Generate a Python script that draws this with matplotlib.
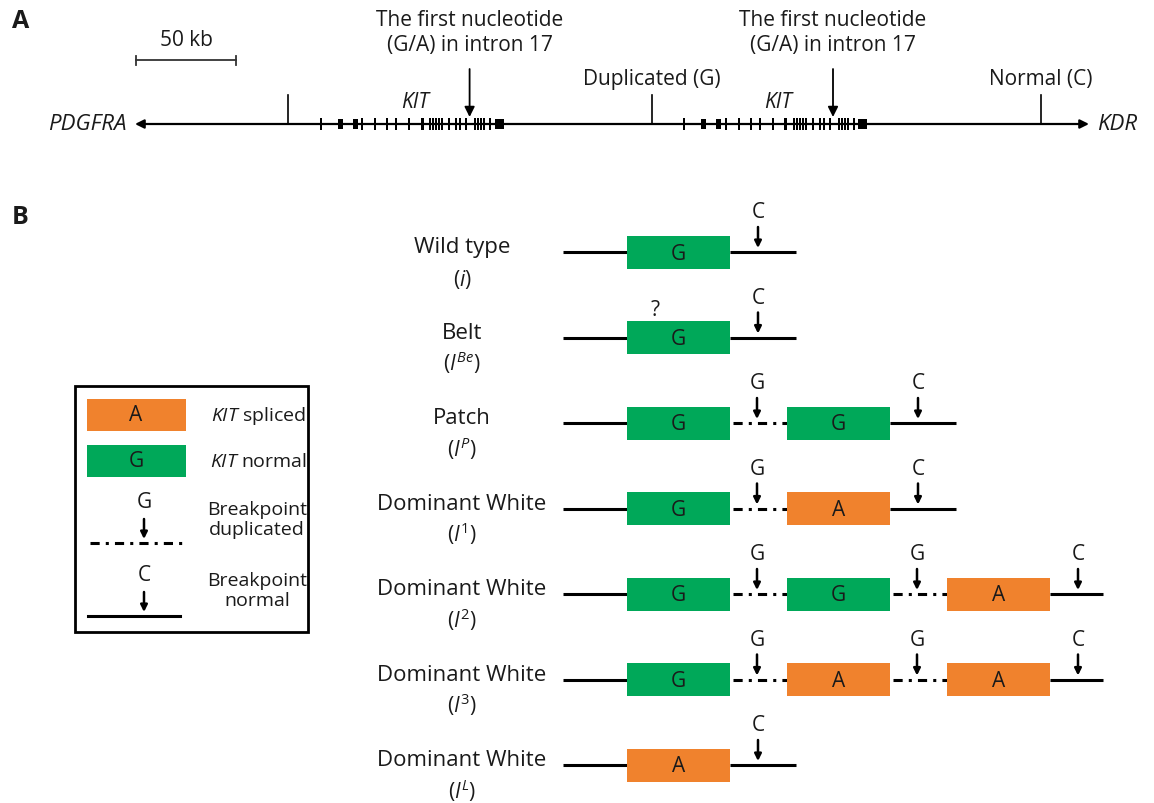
import matplotlib.pyplot as plt
from matplotlib.patches import Rectangle

plt.rcParams['font.family'] = ['Open Sans', 'DejaVu Sans']
plt.rcParams['mathtext.fontset'] = 'custom'
plt.rcParams['mathtext.rm'] = 'Open Sans'
plt.rcParams['mathtext.it'] = 'Open Sans:italic'
plt.rcParams['text.color'] = '#1a1a1a'

GREEN = '#00A859'
ORANGE = '#F0822D'

# ---- panel A data (kb) ----
scale_kb = 50
track_kb = [-0.5, 476.5]
marker_kb = [76, 258, 452.5]
marker_labels = ['', 'Duplicated (G)', 'Normal (C)']
kit_starts_kb = [92.3, 274.0]
intron17_kb = 74.5
exon_kb = [0, 9.8, 17.3, 20.8, 27.3, 33.3, 37.8, 44.3, 50.8, 54.8, 56.3, 57.8,
           59.3, 60.8, 64.3, 67.8, 69.8, 72.8, 77.3, 78.8, 80.3, 81.8, 84.8, 89.3]
exon_len_kb = [1, 2.5, 2.5, 1, 1, 1, 1, 1, 1.5, 1, 1, 1,
               1, 1, 1, 1, 1, 1, 1, 1, 1, 1, 1, 4.5]

# ---- panel B data ----
row_names = ['Wild type', 'Belt', 'Patch', 'Dominant White', 'Dominant White',
             'Dominant White', 'Dominant White']
row_alleles = [r'($i$)', r'($I^{Be}$)', r'($I^{P}$)', r'($I^{1}$)', r'($I^{2}$)',
               r'($I^{3}$)', r'($I^{L}$)']
row_boxes = [['G'], ['G'], ['G', 'G'], ['G', 'A'], ['G', 'G', 'A'],
             ['G', 'A', 'A'], ['A']]
box_colors = {'G': GREEN, 'A': ORANGE}
legend_items = [('A', r'$\mathit{KIT}$ spliced'), ('G', r'$\mathit{KIT}$ normal'),
                ('G', 'Breakpoint\nduplicated'), ('C', 'Breakpoint\nnormal')]

fig = plt.figure(figsize=(11.54, 8.04), dpi=100)

# panel A axes in kb
ax_a = fig.add_axes([0, 0, 1, 1])
ax_a.set_xlim(-68, 509)
ax_a.set_ylim(804, 0)
ax_a.axis('off')

# panel B axes in layout units (pixels)
ax = fig.add_axes([0, 0, 1, 1])
ax.set_xlim(0, 1154)
ax.set_ylim(804, 0)
ax.axis('off')
ax.patch.set_alpha(0)

ax.text(12, 22, 'A', fontsize=18, fontweight='bold', va='center', ha='left')
ax.text(12, 218, 'B', fontsize=18, fontweight='bold', va='center', ha='left')

# ---- panel A ----
ty = 125
fs = 15
ax_a.annotate('', xy=(track_kb[0], ty), xytext=(track_kb[1], ty),
              arrowprops=dict(arrowstyle='<|-|>', lw=1.6, color='k',
                              mutation_scale=13, shrinkA=0, shrinkB=0))
ax_a.text(track_kb[0] - 4, ty, 'PDGFRA', style='italic', fontsize=16,
          ha='right', va='center')
ax_a.text(track_kb[1] + 4, ty, 'KDR', style='italic', fontsize=16,
          ha='left', va='center')

# scale bar
ax_a.plot([0, scale_kb], [61, 61], color='#333', lw=1.3)
for s in (0, scale_kb):
    ax_a.plot([s, s], [57, 66], color='#333', lw=1.3)
ax_a.text(scale_kb / 2, 40, '%d kb' % scale_kb, fontsize=fs, ha='center', va='center')

for m, lab in zip(marker_kb, marker_labels):
    ax_a.plot([m, m], [96, ty], color='k', lw=1.2)
    if lab:
        ax_a.text(m, 79, lab, fontsize=fs, ha='center', va='center')

for k0 in kit_starts_kb:
    for e, w in zip(exon_kb, exon_len_kb):
        h = 12 if w < 2 else 10
        ax_a.add_patch(Rectangle((k0 + e - w / 2, ty - h / 2), w, h,
                                 facecolor='k', edgecolor='none'))
    ax_a.text(k0 + 47, 102, 'KIT', style='italic', fontsize=fs, ha='center', va='center')
    xa = k0 + intron17_kb
    ax_a.annotate('', xy=(xa, 118), xytext=(xa, 70),
                  arrowprops=dict(arrowstyle='-|>', lw=1.3, color='k',
                                  mutation_scale=15, shrinkA=0, shrinkB=0))
    ax_a.text(xa, 20, 'The first nucleotide', fontsize=fs, ha='center', va='center')
    ax_a.text(xa, 46, '(G/A) in intron 17', fontsize=fs, ha='center', va='center')

# ---- panel B ----
row_y0, row_step = 253, 85.5
line_x0, box_x0, box_w, box_step, box_h = 563, 627, 103, 160, 33
x_max = 1103
dashes = (0, (3, 2, 1, 2))


def bp_arrow(x, y, letter, top=25, label_dy=40):
    ax.annotate('', xy=(x, y - 4), xytext=(x, y - top),
                arrowprops=dict(arrowstyle='-|>', lw=1.8, color='k',
                                mutation_scale=10, shrinkA=0, shrinkB=0))
    ax.text(x, y - label_dy, letter, fontsize=fs, ha='center', va='center')


for i, (name, allele, boxes) in enumerate(zip(row_names, row_alleles, row_boxes)):
    y = row_y0 + i * row_step
    ax.text(462, y - 5, name, fontsize=16, ha='center', va='center')
    ax.text(462, y + 33, allele, fontsize=15, ha='center', va='baseline')
    ax.plot([line_x0, box_x0], [y, y], color='k', lw=2.2, solid_capstyle='butt')
    for j, b in enumerate(boxes):
        x = box_x0 + j * box_step
        ax.add_patch(Rectangle((x, y - box_h / 2), box_w, box_h,
                               facecolor=box_colors[b], edgecolor='none', zorder=3))
        ax.text(x + box_w / 2, y + 1, b, fontsize=fs, ha='center', va='center',
                zorder=4)
        if j < len(boxes) - 1:
            ax.plot([x + box_w + 3, x + box_step], [y, y], color='k', lw=2.2,
                    linestyle=dashes)
            bp_arrow(x + box_w + 27, y, 'G')
    end = box_x0 + (len(boxes) - 1) * box_step + box_w
    ax.plot([end, min(end + 66, x_max)], [y, y], color='k', lw=2.2,
            solid_capstyle='butt')
    bp_arrow(end + 28, y, 'C')

ax.text(655, 311, '?', fontsize=fs, ha='center', va='center')

# legend
lfs = 14
ax.add_patch(Rectangle((75, 387), 233, 246, facecolor='none', edgecolor='k', lw=2))
leg_y = [416, 462]
for (k, lab), y in zip(legend_items[:2], leg_y):
    ax.add_patch(Rectangle((87, y - 16), 99, 32, facecolor=box_colors[k], edgecolor='none'))
    ax.text(136, y, k, fontsize=fs, ha='center', va='center')
    ax.text(258, y, lab, fontsize=lfs, ha='center', va='center')

ax.text(144, 503, 'G', fontsize=fs, ha='center', va='center')
ax.annotate('', xy=(144, 540), xytext=(144, 520),
            arrowprops=dict(arrowstyle='-|>', lw=1.8, color='k',
                            mutation_scale=10, shrinkA=0, shrinkB=0))
ax.plot([90, 183], [544, 544], color='k', lw=2.2, linestyle=dashes)
ax.text(257, 520, legend_items[2][1], fontsize=lfs, ha='center', va='center',
        linespacing=1.1)

ax.text(144, 576, 'C', fontsize=fs, ha='center', va='center')
ax.annotate('', xy=(144, 613), xytext=(144, 593),
            arrowprops=dict(arrowstyle='-|>', lw=1.8, color='k',
                            mutation_scale=10, shrinkA=0, shrinkB=0))
ax.plot([88, 180], [617, 617], color='k', lw=2.2)
ax.text(257, 591, legend_items[3][1], fontsize=lfs, ha='center', va='center',
        linespacing=1.1)

fig.savefig('out.png', dpi=100)
